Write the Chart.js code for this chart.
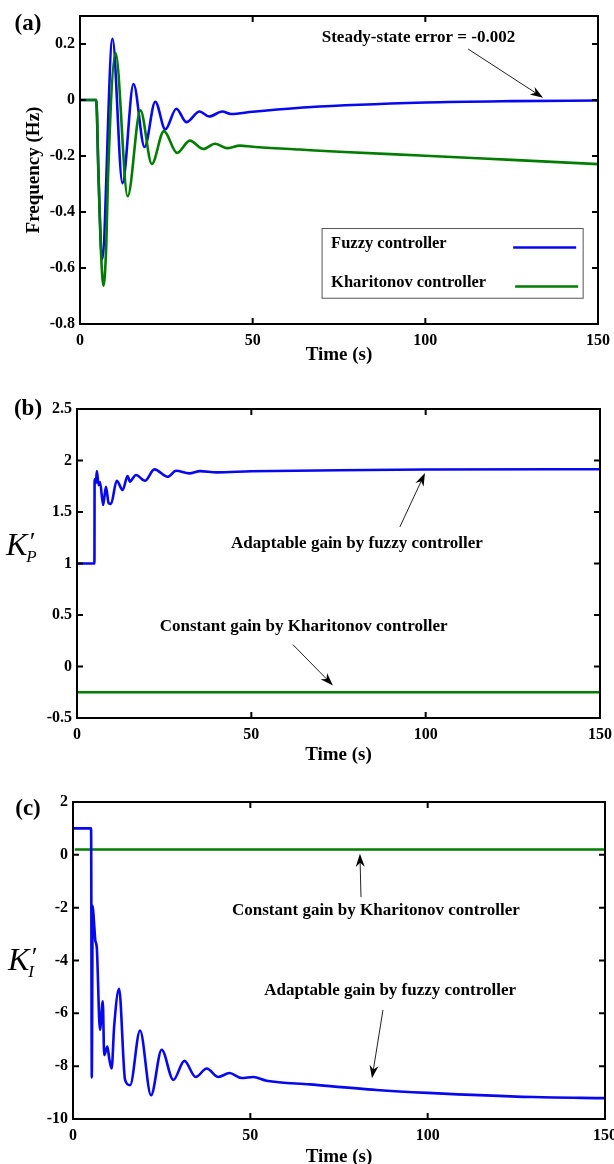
<!DOCTYPE html>
<html>
<head>
<meta charset="utf-8">
<script src="https://cdn.jsdelivr.net/npm/chart.js@4.4.1/dist/chart.umd.min.js"></script>
<style>
  body { margin: 0; background: #fff; }
  canvas { display: block; }
</style>
</head>
<body>
<canvas id="chartA" width="614" height="380"></canvas>
<canvas id="chartB" width="614" height="390"></canvas>
<canvas id="chartC" width="614" height="394"></canvas>
<script>
// (a) frequency deviation after the load step
const timeFuzzyA = [0, 4.7, 5.3, 6.4, 9.4, 12.3, 15.5, 18.7, 21.8, 24.7, 27.9, 30.8, 34.6, 37.4, 41.2, 43.7, 50, 66, 100, 125, 150];
const freqFuzzyA = [0, 0, -0.25, -0.568, 0.219, -0.297, 0.057, -0.168, -0.006, -0.105, -0.031, -0.079, -0.041, -0.059, -0.041, -0.05, -0.042, -0.026, -0.009, -0.004, -0.002];
const timeKharA = [0, 4.7, 5.4, 6.0, 6.8, 7.6, 8.1, 10.3, 13.8, 17.5, 20.8, 24.3, 28.1, 31.8, 35.7, 39.1, 42.5, 46.3, 50, 63.7, 75, 100, 125, 150];
const freqKharA = [0, 0, -0.28, -0.52, -0.664, -0.52, -0.28, 0.168, -0.344, -0.037, -0.228, -0.111, -0.189, -0.145, -0.175, -0.156, -0.172, -0.163, -0.167, -0.177, -0.185, -0.199, -0.214, -0.229];

// (b) proportional gain
const timeFuzzyB = [0, 5.0, 5.05, 5.4, 5.7, 6.2, 6.6, 7.5, 8.3, 9.1, 9.75, 11.4, 13.1, 14.5, 15.2, 15.8, 16.9, 19.5, 22.2, 26.0, 28.4, 32.2, 35.3, 40, 50, 75, 100, 150];
const kpFuzzyB = [1, 1, 1.817, 1.78, 1.897, 1.76, 1.79, 1.568, 1.745, 1.585, 1.578, 1.804, 1.713, 1.849, 1.794, 1.817, 1.859, 1.804, 1.914, 1.842, 1.9, 1.875, 1.897, 1.885, 1.895, 1.905, 1.912, 1.915];
const timeKharB = [0, 150];
const kpKharB = [-0.25, -0.25];

// (c) integral gain
const timeFuzzyC = [0, 5.1, 5.3, 5.55, 5.9, 6.3, 6.7, 7.6, 8.4, 8.8, 9.7, 10.2, 10.9, 11.6, 13.0, 14.7, 16.1, 18.9, 22.0, 25.0, 28.3, 31.4, 34.6, 37.7, 41.0, 44.1, 47.6, 50.8, 54.6, 66.8, 85.6, 100, 129.8, 150];
const kiFuzzyC = [1, 1, -8.43, -1.93, -2.5, -3.25, -3.5, -6.63, -5.54, -7.58, -7.26, -7.7, -8.09, -6.5, -5.07, -8.53, -8.72, -6.65, -9.1, -7.38, -8.52, -7.8, -8.41, -8.09, -8.41, -8.26, -8.45, -8.41, -8.55, -8.69, -8.9, -9.01, -9.17, -9.21];
const timeKharC = [0.5, 150];
const kiKharC = [0.2, 0.2];

const xTicks = [0, 50, 100, 150];
const yTicksA = [-0.8, -0.6, -0.4, -0.2, 0, 0.2];
const yTicksB = [-0.5, 0, 0.5, 1, 1.5, 2, 2.5];
const yTicksC = [-10, -8, -6, -4, -2, 0, 2];

const FUZZY_BLUE = '#0808ee';
const KHAR_GREEN = '#007d00';
const SERIF = '"Liberation Serif", "Times New Roman", serif';

Chart.defaults.font.family = SERIF;
Chart.defaults.color = '#000';

function toPoints(xs, ys) {
    return xs.map((x, i) => ({ x: x, y: ys[i] }));
}

function drawArrow(ctx, x0, y0, x1, y1) {
    const a = Math.atan2(y1 - y0, x1 - x0);
    const c = Math.cos(a), s = Math.sin(a);
    ctx.beginPath();
    ctx.moveTo(x0, y0);
    ctx.lineTo(x1 - 8 * c, y1 - 8 * s);
    ctx.stroke();
    ctx.beginPath();
    ctx.moveTo(x1, y1);
    ctx.lineTo(x1 - 13 * c + 4.5 * s, y1 - 13 * s - 4.5 * c);
    ctx.lineTo(x1 - 9 * c, y1 - 9 * s);
    ctx.lineTo(x1 - 13 * c - 4.5 * s, y1 - 13 * s + 4.5 * c);
    ctx.closePath();
    ctx.fill();
}

// frame, inward ticks, axis titles, notes and legend
const figureExtras = {
    id: 'figureExtras',
    afterDatasetsDraw(chart, args, opts) {
        const { ctx, chartArea: area, scales } = chart;
        ctx.save();
        ctx.strokeStyle = '#000';
        ctx.lineWidth = 2;
        ctx.strokeRect(area.left, area.top, area.right - area.left, area.bottom - area.top);
        ctx.beginPath();
        scales.x.ticks.forEach(t => {
            const px = scales.x.getPixelForValue(t.value);
            ctx.moveTo(px, area.bottom); ctx.lineTo(px, area.bottom - 6);
            ctx.moveTo(px, area.top); ctx.lineTo(px, area.top + 6);
        });
        scales.y.ticks.forEach(t => {
            const py = scales.y.getPixelForValue(t.value);
            ctx.moveTo(area.left, py); ctx.lineTo(area.left + 6, py);
            ctx.moveTo(area.right, py); ctx.lineTo(area.right - 6, py);
        });
        ctx.stroke();
        ctx.restore();
    },
    afterDraw(chart, args, opts) {
        const { ctx, chartArea: area, scales } = chart;
        const X = v => scales.x.getPixelForValue(v);
        const Y = v => scales.y.getPixelForValue(v);
        ctx.save();
        ctx.fillStyle = '#000';

        // panel letter
        ctx.font = 'bold 23px ' + SERIF;
        ctx.textAlign = 'center';
        ctx.textBaseline = 'middle';
        ctx.fillText(opts.letter, opts.letterPos[0], opts.letterPos[1]);

        // x axis title
        ctx.font = 'bold 19px ' + SERIF;
        ctx.fillText('Time (s)', (area.left + area.right) / 2, area.bottom + opts.xTitleOffset);

        // y axis title
        if (opts.yTitle) {
            ctx.save();
            ctx.translate(opts.yTitleX, (area.top + area.bottom) / 2);
            ctx.rotate(-Math.PI / 2);
            ctx.fillText(opts.yTitle, 0, 0);
            ctx.restore();
        } else {
            const [kx, ky] = opts.gainPos;
            ctx.textAlign = 'left';
            ctx.textBaseline = 'alphabetic';
            ctx.font = 'italic 32px ' + SERIF;
            ctx.fillText('K', kx, ky);
            const kw = ctx.measureText('K').width;
            ctx.font = 'italic 26px ' + SERIF;
            ctx.fillText('\u2032', kx + kw + 1, ky - 5);
            ctx.font = 'italic 17px ' + SERIF;
            ctx.fillText(opts.gainSub, kx + kw - 1, ky + 7);
        }

        // notes with arrows
        ctx.font = 'bold 17px ' + SERIF;
        ctx.textBaseline = 'middle';
        (opts.notes || []).forEach(n => {
            ctx.textAlign = n.align || 'center';
            ctx.fillText(n.text, X(n.at[0]), Y(n.at[1]));
        });
        ctx.strokeStyle = '#222';
        ctx.fillStyle = '#000';
        ctx.lineWidth = 1;
        (opts.arrows || []).forEach(a => {
            drawArrow(ctx, X(a.from[0]), Y(a.from[1]), X(a.to[0]), Y(a.to[1]));
        });

        // legend box
        if (opts.legendBox) {
            const [t0, v0, t1, v1] = opts.legendBox;
            const lx = X(t0), ly = Y(v0), rx = X(t1), by = Y(v1);
            ctx.fillStyle = '#fff';
            ctx.fillRect(lx, ly, rx - lx, by - ly);
            ctx.strokeStyle = '#555';
            ctx.lineWidth = 1;
            ctx.strokeRect(lx, ly, rx - lx, by - ly);
            ctx.font = 'bold 16.5px ' + SERIF;
            ctx.textAlign = 'left';
            chart.data.datasets.forEach((ds, i) => {
                const row = ly + 15 + 39 * i;
                ctx.fillStyle = '#000';
                ctx.fillText(ds.label, lx + 9, row);
                ctx.strokeStyle = ds.borderColor;
                ctx.lineWidth = 2.5;
                ctx.beginPath();
                ctx.moveTo(rx - 70 + i * 2, row + 4);
                ctx.lineTo(rx - 7 + i * 2, row + 4);
                ctx.stroke();
            });
        }
        ctx.restore();
    }
};

function makeScales(yMin, yMax, yTicks) {
    return {
        x: {
            type: 'linear',
            min: 0,
            max: 150,
            grid: { display: false, drawTicks: false },
            border: { display: false },
            afterBuildTicks: s => { s.ticks = xTicks.map(v => ({ value: v })); },
            afterFit: s => { s.height = 30; s.paddingLeft = 0; s.paddingRight = 0; },
            ticks: { font: { size: 16, weight: 'bold' }, padding: 7, maxRotation: 0, callback: v => String(v) }
        },
        y: {
            type: 'linear',
            min: yMin,
            max: yMax,
            grid: { display: false, drawTicks: false },
            border: { display: false },
            afterBuildTicks: s => { s.ticks = yTicks.map(v => ({ value: v })); },
            afterFit: s => { s.width = 45; s.paddingTop = 0; s.paddingBottom = 0; },
            ticks: { font: { size: 16, weight: 'bold' }, padding: 5, callback: v => String(v) }
        }
    };
}

function lineSet(label, xs, ys, color, order) {
    return {
        label: label,
        data: toPoints(xs, ys),
        borderColor: color,
        borderWidth: 2.6,
        pointRadius: 0,
        fill: false,
        cubicInterpolationMode: 'monotone',
        order: order
    };
}

function makeChart(id, datasets, yMin, yMax, yTicks, padding, extras) {
    return new Chart(document.getElementById(id), {
        type: 'line',
        data: { datasets: datasets },
        options: {
            responsive: false,
            animation: false,
            devicePixelRatio: 1,
            layout: { padding: padding },
            scales: makeScales(yMin, yMax, yTicks),
            plugins: {
                legend: { display: false },
                tooltip: { enabled: false },
                figureExtras: extras
            }
        },
        plugins: [figureExtras]
    });
}

makeChart('chartA', [
    lineSet('Fuzzy controller', timeFuzzyA, freqFuzzyA, FUZZY_BLUE, 1),
    lineSet('Kharitonov controller', timeKharA, freqKharA, KHAR_GREEN, 0)
], -0.8, 0.3, yTicksA, { left: 35, top: 16, right: 16, bottom: 26 }, {
    letter: '(a)',
    letterPos: [28, 24],
    xTitleOffset: 31,
    yTitle: 'Frequency (Hz)',
    yTitleX: 34,
    notes: [{ text: 'Steady-state error = -0.002', at: [70, 0.222], align: 'left' }],
    arrows: [{ from: [112.4, 0.182], to: [134.1, 0.008] }],
    legendBox: [70.1, -0.459, 145.7, -0.708]
});

makeChart('chartB', [
    lineSet('Fuzzy controller', timeFuzzyB, kpFuzzyB, FUZZY_BLUE, 0),
    lineSet('Kharitonov controller', timeKharB, kpKharB, KHAR_GREEN, 1)
], -0.5, 2.5, yTicksB, { left: 32, top: 29, right: 14, bottom: 22 }, {
    letter: '(b)',
    letterPos: [28, 29],
    xTitleOffset: 37,
    gainPos: [6, 175],
    gainSub: 'P',
    notes: [
        { text: 'Adaptable gain by fuzzy controller', at: [80.3, 1.19] },
        { text: 'Constant gain by Kharitonov controller', at: [65, 0.387] }
    ],
    arrows: [
        { from: [92.6, 1.355], to: [99.8, 1.878] },
        { from: [61.9, 0.213], to: [73.4, -0.184] }
    ]
});

makeChart('chartC', [
    lineSet('Fuzzy controller', timeFuzzyC, kiFuzzyC, FUZZY_BLUE, 0),
    lineSet('Kharitonov controller', timeKharC, kiKharC, KHAR_GREEN, 1)
], -10, 2, yTicksC, { left: 28, top: 32, right: 9, bottom: 15 }, {
    letter: '(c)',
    letterPos: [28, 39],
    xTitleOffset: 38,
    gainPos: [8, 200],
    gainSub: 'I',
    notes: [
        { text: 'Constant gain by Kharitonov controller', at: [85.4, -2.1] },
        { text: 'Adaptable gain by fuzzy controller', at: [89.4, -5.14] }
    ],
    arrows: [
        { from: [81.2, -1.6], to: [80.9, 0.04] },
        { from: [87.4, -5.87], to: [84.3, -8.46] }
    ]
});
</script>
</body>
</html>
